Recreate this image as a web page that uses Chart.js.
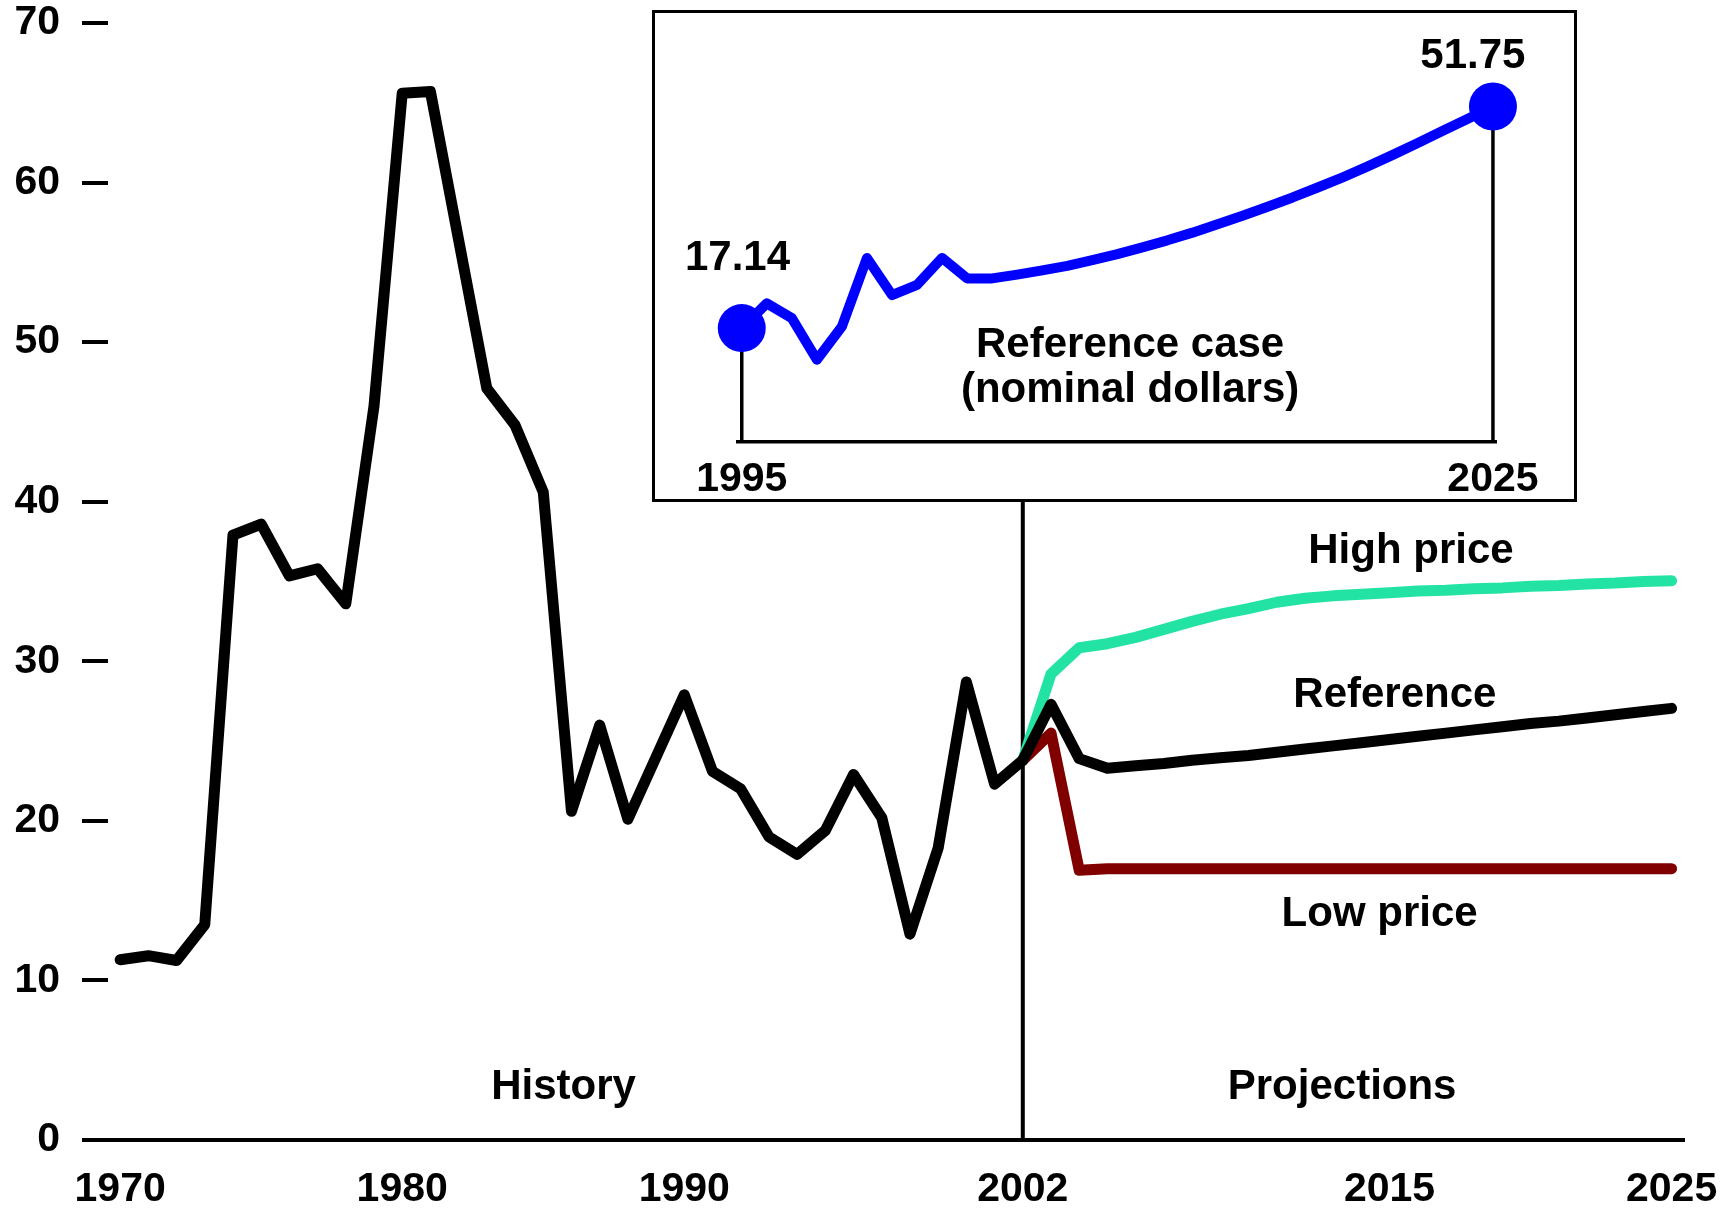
<!DOCTYPE html>
<html>
<head>
<meta charset="utf-8">
<title>World oil prices, 1970-2025</title>
<script src="https://cdn.jsdelivr.net/npm/chart.js@4.4.1/dist/chart.umd.min.js"></script>
<style>
  html, body { margin: 0; padding: 0; background: #fff; }
  #wrap { position: relative; width: 1736px; height: 1209px; overflow: hidden; }
  #mainChart { position: absolute; left: 0; top: 0; }
  #insetBox {
    position: absolute; left: 652px; top: 10px; width: 925px; height: 492px;
    border: 3px solid #000; box-sizing: border-box; background: #fff;
  }
  #insetChart { position: absolute; left: 0; top: 0; }
</style>
</head>
<body>
<div id="wrap">
  <canvas id="mainChart" width="1736" height="1209"></canvas>
  <div id="insetBox"><canvas id="insetChart" width="919" height="486"></canvas></div>
</div>
<script>
// years of the main chart (history + reference projection)
const years = [
  1970, 1971, 1972, 1973, 1974, 1975, 1976, 1977, 1978, 1979,
  1980, 1981, 1982, 1983, 1984, 1985, 1986, 1987, 1988, 1989,
  1990, 1991, 1992, 1993, 1994, 1995, 1996, 1997, 1998, 1999,
  2000, 2001, 2002, 2003, 2004, 2005, 2006, 2007, 2008, 2009,
  2010, 2011, 2012, 2013, 2014, 2015, 2016, 2017, 2018, 2019,
  2020, 2021, 2022, 2023, 2024, 2025
];
// 2002 dollars per barrel, history then reference case
const referencePrice = [
  11.3, 11.55, 11.25, 13.5, 37.9, 38.6, 35.35, 35.8, 33.6, 46.0,
  65.6, 65.7, 56.4, 47.1, 44.8, 40.6, 20.6, 26.0, 20.1, 24.0,
  27.9, 23.1, 22.0, 19.0, 17.9, 19.4, 22.9, 20.2, 12.9, 18.3,
  28.7, 22.3, 23.8, 27.3, 23.9, 23.3, 23.45, 23.6, 23.8, 23.95,
  24.1, 24.3, 24.5, 24.7, 24.9, 25.1, 25.3, 25.5, 25.7, 25.9,
  26.1, 26.25, 26.45, 26.65, 26.85, 27.05
];

// projection cases
const projYears = [
  2002, 2003, 2004, 2005, 2006, 2007, 2008, 2009, 2010, 2011, 2012, 2013,
  2014, 2015, 2016, 2017, 2018, 2019, 2020, 2021, 2022, 2023, 2024, 2025
];
const highPrice = [
  23.8, 29.2, 30.85, 31.1, 31.5, 32.0, 32.5, 32.95, 33.3, 33.7, 33.95, 34.1,
  34.2, 34.3, 34.4, 34.45, 34.55, 34.6, 34.7, 34.75, 34.85, 34.9, 35.0, 35.05
];
const lowPrice = [
  23.8, 25.5, 16.9, 17.0, 17.0, 17.0, 17.0, 17.0, 17.0, 17.0, 17.0, 17.0,
  17.0, 17.0, 17.0, 17.0, 17.0, 17.0, 17.0, 17.0, 17.0, 17.0, 17.0, 17.0
];

const xTickYears = [1970, 1980, 1990, 2002, 2015, 2025];
const yTicks = [0, 10, 20, 30, 40, 50, 60, 70];
const dividerYear = 2002;

// inset: reference case in nominal dollars
const insetYears = [
  1995, 1996, 1997, 1998, 1999, 2000, 2001, 2002, 2003, 2004, 2005,
  2006, 2007, 2008, 2009, 2010, 2011, 2012, 2013, 2014, 2015,
  2016, 2017, 2018, 2019, 2020, 2021, 2022, 2023, 2024, 2025
];
const nominalPrice = [
  17.14, 21.0, 18.7, 12.2, 17.4, 28.1, 22.3, 23.9, 28.1, 24.9, 24.9,
  25.5, 26.15, 26.85, 27.75, 28.7, 29.75, 30.85, 32.05, 33.35, 34.7,
  36.1, 37.55, 39.1, 40.7, 42.4, 44.2, 46.05, 47.95, 49.85, 51.75
];
const insetTickYears = [1995, 2025];

const FONT = "'Liberation Sans', Arial, sans-serif";
const tickFont = { family: FONT, size: 41, weight: 'bold', lineHeight: 1 };

function toPoints(xs, ys) {
  return xs.map((x, i) => ({ x: x, y: ys[i] }));
}

// MAIN CHART
(function () {
  // text placed in data coordinates (x = year, y = price at baseline)
  const notes = [
    { text: 'High price', x: 2015.76, y: 36.15 },
    { text: 'Reference', x: 2015.19, y: 27.13 },
    { text: 'Low price', x: 2014.65, y: 13.4 },
    { text: 'History', x: 1985.72, y: 2.54 },
    { text: 'Projections', x: 2013.32, y: 2.54 }
  ];

  const notesPlugin = {
    id: 'mainNotes',
    beforeDatasetsDraw(chart) {
      const { ctx, scales: { x, y } } = chart;
      const px = x.getPixelForValue(dividerYear);
      ctx.save();
      ctx.strokeStyle = '#000';
      ctx.lineWidth = 4;
      ctx.beginPath();
      ctx.moveTo(px, y.top);
      ctx.lineTo(px, y.bottom);
      ctx.stroke();
      ctx.restore();
    },
    afterDraw(chart) {
      const { ctx, scales: { x, y } } = chart;
      ctx.save();
      ctx.fillStyle = '#000';
      ctx.font = 'bold 42px ' + FONT;
      ctx.textAlign = 'center';
      ctx.textBaseline = 'alphabetic';
      notes.forEach(n => {
        ctx.fillText(n.text, x.getPixelForValue(n.x), y.getPixelForValue(n.y));
      });
      ctx.restore();
    }
  };

  new Chart(
    document.getElementById('mainChart'),
    {
      type: 'line',
      data: {
        datasets: [
          {
            label: 'Reference',
            data: toPoints(years, referencePrice),
            borderColor: '#000000',
            borderWidth: 11,
            order: 0
          },
          {
            label: 'Low price',
            data: toPoints(projYears, lowPrice),
            borderColor: '#800000',
            borderWidth: 11,
            order: 1
          },
          {
            label: 'High price',
            data: toPoints(projYears, highPrice),
            borderColor: '#22e3a3',
            borderWidth: 11,
            order: 2
          }
        ]
      },
      options: {
        responsive: false,
        animation: false,
        events: [],
        layout: { padding: { top: 23, right: 52, left: 0, bottom: 0 } },
        elements: {
          point: { radius: 0 },
          line: { tension: 0, borderCapStyle: 'round', borderJoinStyle: 'round', fill: false }
        },
        plugins: { legend: { display: false }, tooltip: { enabled: false } },
        scales: {
          x: {
            type: 'linear',
            min: 1969.57,
            max: 2025.44,
            afterBuildTicks: s => { s.ticks = xTickYears.map(v => ({ value: v })); },
            afterFit: s => { s.height = 69; s.paddingLeft = 0; s.paddingRight = 0; },
            grid: { display: false, drawTicks: false },
            border: { display: true, color: '#000', width: 4 },
            ticks: {
              color: '#000',
              font: tickFont,
              padding: 29,
              maxRotation: 0,
              autoSkip: false,
              callback: v => String(v)
            }
          },
          y: {
            min: 0,
            max: 70,
            afterBuildTicks: s => { s.ticks = yTicks.map(v => ({ value: v })); },
            afterFit: s => { s.width = 108; s.paddingTop = 0; s.paddingBottom = 0; },
            grid: { drawOnChartArea: false, drawTicks: true, tickLength: 26, lineWidth: 4, color: '#000' },
            border: { display: false },
            ticks: { color: '#000', font: tickFont, padding: 22 }
          }
        }
      },
      plugins: [notesPlugin]
    }
  );
})();

// INSET: reference case in nominal dollars
(function () {
  const last = nominalPrice.length - 1;
  const valueLabels = [
    { text: '17.14', x: 1994.83, y: 26.24 },
    { text: '51.75', x: 2024.2, y: 57.74 }
  ];
  const caption = [
    { text: 'Reference case', x: 2010.51, y: 12.7 },
    { text: '(nominal dollars)', x: 2010.51, y: 5.67 }
  ];

  const insetPlugin = {
    id: 'insetNotes',
    beforeDatasetsDraw(chart) {
      // drop lines from the end points to the axis
      const { ctx, scales: { x, y } } = chart;
      ctx.save();
      ctx.strokeStyle = '#000';
      ctx.lineWidth = 3.5;
      [0, last].forEach(i => {
        const px = x.getPixelForValue(insetYears[i]);
        ctx.beginPath();
        ctx.moveTo(px, y.getPixelForValue(nominalPrice[i]));
        ctx.lineTo(px, y.bottom);
        ctx.stroke();
      });
      ctx.restore();
    },
    afterDraw(chart) {
      const { ctx, scales: { x, y } } = chart;
      ctx.save();
      ctx.fillStyle = '#000';
      ctx.textAlign = 'center';
      ctx.textBaseline = 'alphabetic';
      ctx.font = 'bold 42px ' + FONT;
      valueLabels.concat(caption).forEach(n => {
        ctx.fillText(n.text, x.getPixelForValue(n.x), y.getPixelForValue(n.y));
      });
      ctx.restore();
    }
  };

  new Chart(
    document.getElementById('insetChart'),
    {
      type: 'line',
      data: {
        datasets: [
          {
            label: 'Reference case (nominal dollars)',
            data: toPoints(insetYears, nominalPrice),
            borderColor: '#0000ff',
            borderWidth: 10,
            pointRadius: ctx => (ctx.dataIndex === 0 || ctx.dataIndex === last) ? 24 : 0,
            pointBackgroundColor: '#0000ff',
            pointBorderWidth: 0,
            tension: 0,
            borderCapStyle: 'round',
            borderJoinStyle: 'round',
            clip: false
          }
        ]
      },
      options: {
        responsive: false,
        animation: false,
        events: [],
        layout: { padding: { top: 40.7, right: 77.3, left: 83, bottom: 0 } },
        plugins: { legend: { display: false }, tooltip: { enabled: false } },
        scales: {
          x: {
            type: 'linear',
            min: 1994.85,
            max: 2025.15,
            afterBuildTicks: s => { s.ticks = insetTickYears.map(v => ({ value: v })); },
            afterFit: s => { s.height = 57.3; s.paddingLeft = 0; s.paddingRight = 0; },
            grid: { display: false, drawTicks: false },
            border: { display: true, color: '#000', width: 3.5 },
            ticks: {
              color: '#000',
              font: tickFont,
              padding: 17,
              maxRotation: 0,
              autoSkip: false,
              callback: v => String(v)
            }
          },
          y: {
            display: false,
            min: -0.6,
            max: 60
          }
        }
      },
      plugins: [insetPlugin]
    }
  );
})();
</script>
</body>
</html>
